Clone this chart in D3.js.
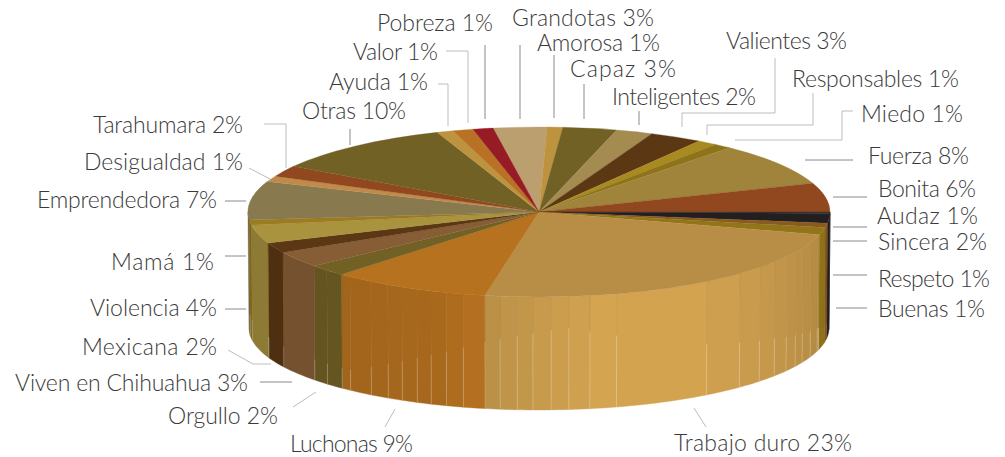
<!DOCTYPE html>
<html lang="es">
<head>
<meta charset="utf-8">
<script src="https://cdnjs.cloudflare.com/ajax/libs/d3/7.8.5/d3.min.js"></script>
<style>
html,body{margin:0;padding:0;background:#fff;overflow:hidden}
svg{display:block}
text{font-family:Lato,"Noto Sans",sans-serif;font-weight:300;fill:#3a3a3a}
</style>
</head>
<body>
<svg id="chart" width="1005" height="457"></svg>
<script>
// ---- data, clockwise from the top of the pie ----
const categories = ["Grandotas","Amorosa","Capaz","Inteligentes","Valientes","Responsables","Miedo","Fuerza","Bonita","Audaz","Sincera","Respeto","Buenas","Trabajo duro","Luchonas","Orgullo","Viven en Chihuahua","Mexicana","Violencia","Mamá","Emprendedora","Desigualdad","Tarahumara","Otras","Ayuda","Valor","Pobreza"];
const printedPercent = [3,1,3,2,3,1,1,8,6,1,2,1,1,23,9,2,3,2,4,1,7,1,2,10,1,1,1];
const sliceValues = [2.97,0.86,3.0,2.03,2.94,1.11,1.0,8.14,5.47,0.28,1.81,0.83,1.39,23.67,8.89,2.19,3.06,1.94,3.5,0.94,7.33,1.11,2.08,10.28,0.92,1.14,1.11];
const sliceColors = ["#BC9F6E","#BE9340","#726125","#A48B50","#5B3813","#A98A21","#8F7319","#A0843B","#92481F","#3A3334","#231F20","#8A5A20","#927518","#B88E46","#B77220","#726125","#875D36","#5B3813","#A9933F","#9C7C20","#887A4E","#C08A4A","#92481F","#726125","#BE9340","#B97223","#961B24"];

// ---- layout constants ----
const TOP = {cx:539, cy:212, rx:291, ry:85};
const BOTTOM = {cx:539, cy:328, rx:290, ry:82};
const START_DEG = -9.1;
// facet seams on the wall, degrees clockwise from 3 o'clock
const facetDegrees = [16.5,20.8,24.9,28,31.6,35.8,40.6,46.3,54.7,74.5,79.9,84.1,87.6,91.2,94.3,97.7,105.1,108.6,111.8,114.8,118.1,121.3,125.3,130.5,136.8];
// [name index, left x, baseline y, width]
const labelBoxes = [[0,512,25.5,142],[1,537,51.3,123],[2,570,77.2,106],[3,612,105,144],[4,726,49,121],[5,792,87,167],[6,861,122,102],[7,868,164,101],[8,878,197,98],[9,877,224,101],[10,878,250,109],[11,878,287,112],[12,878,317,107],[13,674,451,178],[14,290,452,123],[15,168,424,110],[16,15,391,233],[17,82,355,135],[18,90,316,127],[19,111,270,103],[20,37,208,180],[21,84,170,159],[22,93,133,150],[23,302,119,104],[24,329,90,99],[25,353,60,85],[26,377,31,116]];
// leader polylines: dark thin ones and pale ones
const darkLeaders = [[[485,45],[485,119]],[[520,45],[520,119]],[[554,55],[554,118]],[[584,84],[584,119]],[[639,111],[639,125]],[[350,129],[350,145]],[[805,160],[853,160]],[[833,197],[867,197]],[[833,227],[867,227]],[[833,241],[867,241]],[[833,275],[867,275]],[[836,308],[867,308]],[[260,382],[292,382]],[[225,309],[246,309]],[[225,256],[246,256]],[[225,201],[246,201]]];
const paleLeaders = [[[446,51],[468,51],[468,123]],[[438,84],[448,84],[448,126]],[[775,58],[775,113],[682,113],[682,127]],[[813,93],[813,125],[707,125],[707,135]],[[853,111],[842,111],[842,140],[735,140]],[[694,408],[706,427]],[[395,409],[385,427]],[[316,392],[293,407]],[[228,350],[253,364],[271,364]],[[249,168],[270,179]],[[264,124],[286,124],[286,168]]];

const svg = d3.select("#chart");
const rad = d => d*Math.PI/180;

const pie = d3.pie().sort(null).value(d=>d)
  .startAngle(rad(START_DEG)).endAngle(rad(START_DEG+360));
const arcs = pie(sliceValues);
// wall angle t: clockwise from 3 o'clock, in degrees
const toT = a => a*180/Math.PI - 90;

// brightness of the wall along its sweep
const shade = d3.scaleLinear()
  .domain([0,17,50,75,98,110,133,150,180])
  .range([0.95,0.98,1.12,1.17,1.03,0.92,0.88,0.87,0.8]);
const lightStart = d3.scaleLinear()
  .domain([17,55,85,100,130,170])
  .range([0.8,0.55,0.27,0.4,0.82,0.82]);

const rim = (E,t)=>[E.cx+E.rx*Math.cos(rad(t)), E.cy+E.ry*Math.sin(rad(t))];
const tint = (c,k)=>{const r=d3.rgb(c);return d3.rgb(Math.min(255,r.r*k),Math.min(255,r.g*k),Math.min(255,r.b*k)).formatHex();};

// ---- wall ----
const segs=[];
arcs.forEach((a,i)=>{
  [[toT(a.startAngle),toT(a.endAngle)],[toT(a.startAngle)-360,toT(a.endAngle)-360],[toT(a.startAngle)+360,toT(a.endAngle)+360]].forEach(([s,e])=>{
    s=Math.max(0,s); e=Math.min(180,e);
    if(e<=s) return;
    const cuts=[s,...facetDegrees.filter(f=>f>s&&f<e),e];
    d3.pairs(cuts).forEach(([u,v])=>segs.push({i,u,v}));
  });
});
segs.sort((a,b)=>a.u-b.u);
const line=d3.line();
const wall=svg.append("g");
wall.selectAll("path.face").data(segs).join("path").attr("class","face")
  .attr("d",d=>{
    const n=Math.max(2,Math.ceil((d.v-d.u)/1.5));
    const ts=d3.range(n+1).map(k=>d.u+(d.v-d.u)*k/n);
    return line([...ts.map(t=>rim(TOP,t)),...ts.slice().reverse().map(t=>rim(BOTTOM,t))])+"Z";
  })
  .attr("fill",d=>tint(sliceColors[d.i],shade((d.u+d.v)/2)))
  .attr("stroke",d=>tint(sliceColors[d.i],shade((d.u+d.v)/2)))
  .attr("stroke-width",0.4);
// seams: slightly dark above, pale below
const seams=segs.filter(d=>d.v<180).map(d=>({t:d.v,i:d.i}));
wall.selectAll("line.seam").data(seams).join("line").attr("class","seam")
  .attr("x1",d=>rim(TOP,d.t)[0]).attr("y1",d=>rim(TOP,d.t)[1])
  .attr("x2",d=>rim(BOTTOM,d.t)[0]).attr("y2",d=>{
     const a=rim(TOP,d.t)[1],b=rim(BOTTOM,d.t)[1];return a+(b-a)*lightStart(d.t);})
  .attr("stroke",d=>tint(sliceColors[d.i],0.92)).attr("stroke-width",0.6).attr("stroke-opacity",0.5);
wall.selectAll("line.glint").data(seams.filter(d=>d.t>15)).join("line").attr("class","glint")
  .attr("x1",d=>rim(TOP,d.t)[0]+(rim(BOTTOM,d.t)[0]-rim(TOP,d.t)[0])*lightStart(d.t))
  .attr("y1",d=>{const a=rim(TOP,d.t)[1],b=rim(BOTTOM,d.t)[1];return a+(b-a)*lightStart(d.t);})
  .attr("x2",d=>rim(BOTTOM,d.t)[0]).attr("y2",d=>rim(BOTTOM,d.t)[1])
  .attr("stroke","#fff").attr("stroke-width",0.7).attr("stroke-opacity",0.3);

// ---- top face ----
const arcGen=d3.arc().innerRadius(0).outerRadius(1);
svg.append("g").attr("transform",`translate(${TOP.cx},${TOP.cy}) scale(${TOP.rx},${TOP.ry})`)
  .selectAll("path").data(arcs).join("path")
  .attr("d",arcGen)
  .attr("fill",(d,i)=>sliceColors[i])
  .attr("stroke",(d,i)=>sliceColors[i])
  .attr("stroke-width",0.3).attr("vector-effect","non-scaling-stroke");

// ---- leaders ----
const lg=svg.append("g").attr("fill","none");
lg.selectAll("path.d").data(darkLeaders).join("path").attr("class","d").attr("d",line)
  .attr("stroke","#8a8a8a").attr("stroke-width",1);
lg.selectAll("path.p").data(paleLeaders).join("path").attr("class","p").attr("d",line)
  .attr("stroke","#bdbdbd").attr("stroke-width",1);

// ---- labels ----
svg.append("g").selectAll("text").data(labelBoxes).join("text")
  .attr("x",d=>d[1]).attr("y",d=>d[2])
  .attr("font-size",23)
  .attr("textLength",d=>d[3]).attr("lengthAdjust","spacing")
  .text(d=>`${categories[d[0]]} ${printedPercent[d[0]]}%`);
</script>
</body>
</html>
